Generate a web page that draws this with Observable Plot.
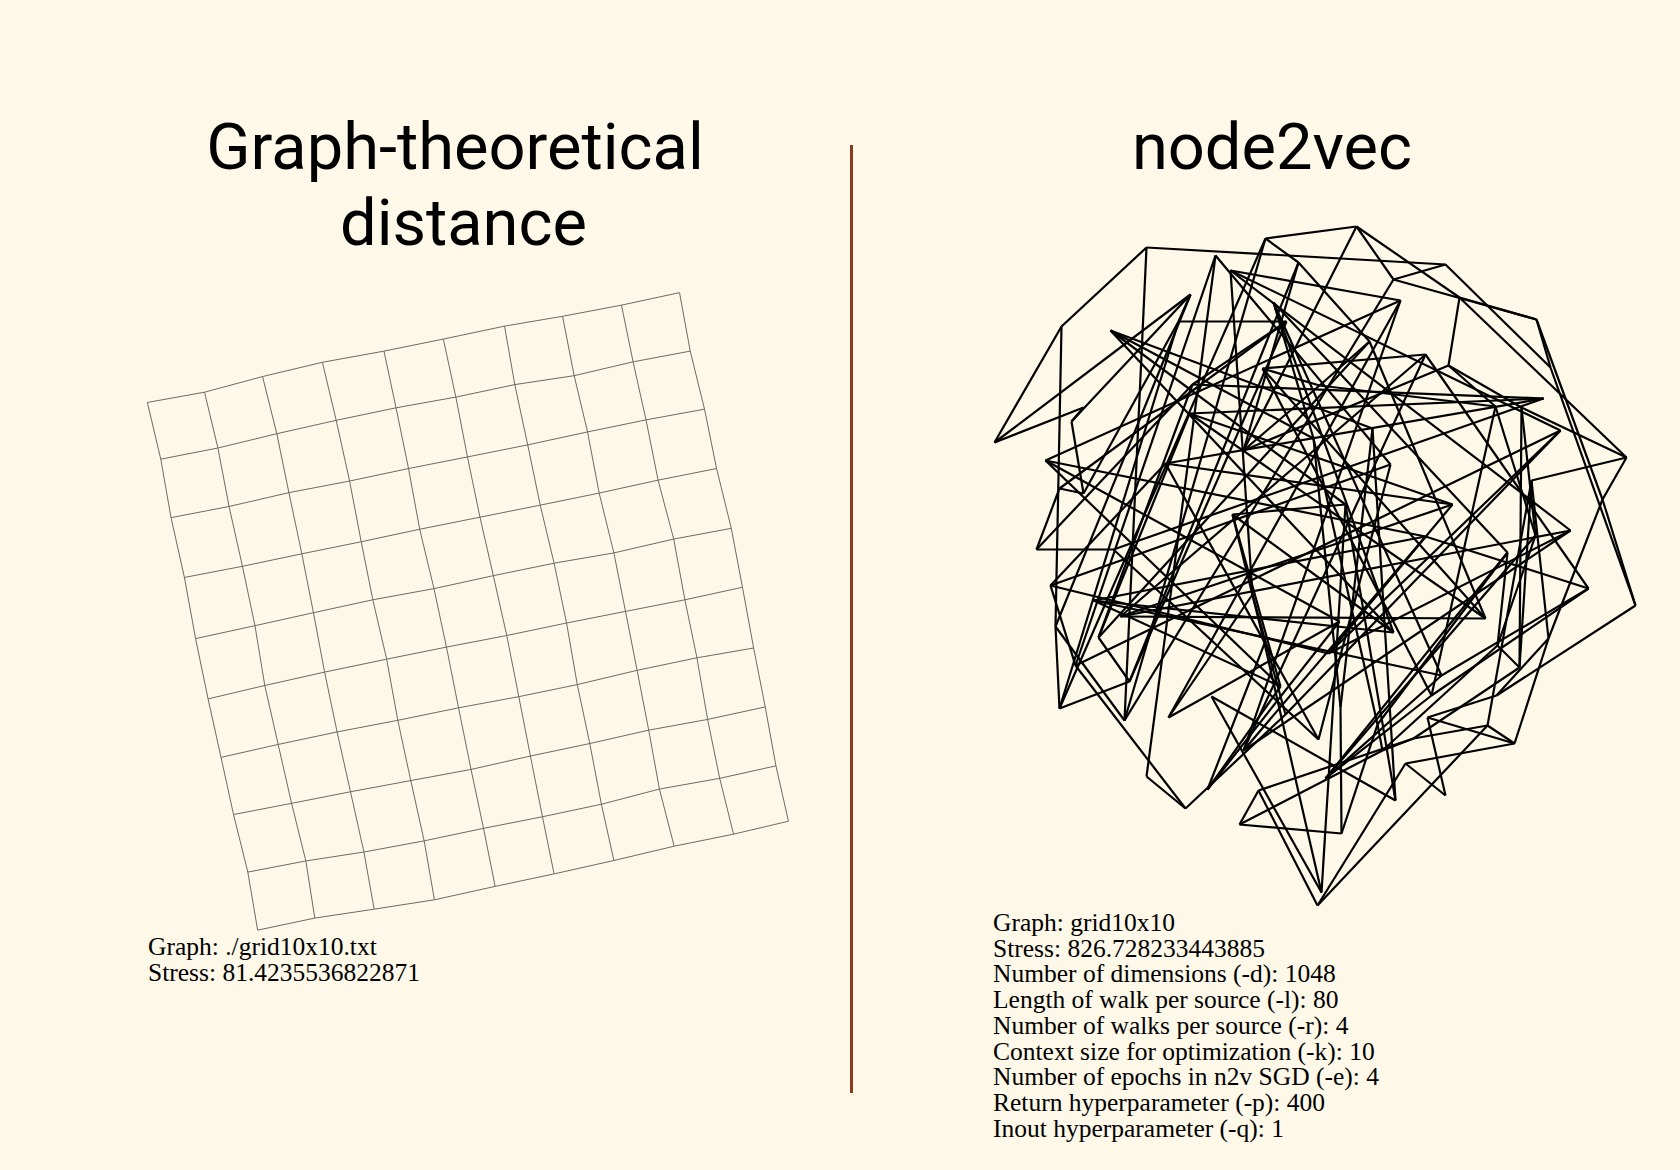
<!DOCTYPE html>
<html>
<head>
<meta charset="utf-8">
<script src="https://cdn.jsdelivr.net/npm/d3@7"></script>
<script src="https://cdn.jsdelivr.net/npm/@observablehq/plot@0.6"></script>
<style>
  html, body { margin: 0; padding: 0; }
  body { width: 1680px; height: 1170px; background: #fdf8e8; position: relative; overflow: hidden; }
  .title { position: absolute; font-family: Roboto, "Noto Sans", sans-serif; font-size: 65px; line-height: 76px; color: #000; text-align: center; white-space: nowrap; }
  .info { position: absolute; font-family: "Liberation Serif", "Times New Roman", serif; font-size: 25.5px; line-height: 25.7px; color: #000; white-space: nowrap; }
  .panel { position: absolute; }
  .divider { position: absolute; left: 850px; top: 145px; width: 2.5px; height: 948px; background: #8b3a1e; }
  svg { background: transparent; }
</style>
</head>
<body>
<div class="title" id="t1" style="left:155px; top:109px; width:600px;"></div>
<div class="title" id="t2" style="left:972px; top:109px; width:600px;"></div>
<div class="divider"></div>
<div class="panel" id="left" style="left:100px; top:260px;"></div>
<div class="panel" id="right" style="left:950px; top:200px;"></div>
<div class="info" id="info1" style="left:148px; top:934px;"></div>
<div class="info" id="info2" style="left:993px; top:910px;"></div>
<script>
// ---- Texts ----
const leftTitle = ["Graph-theoretical", "distance"];
const rightTitle = ["node2vec"];
const leftInfo = ["Graph: ./grid10x10.txt", "Stress: 81.4235536822871"];
const rightInfo = [
  "Graph: grid10x10",
  "Stress: 826.728233443885",
  "Number of dimensions (-d): 1048",
  "Length of walk per source (-l): 80",
  "Number of walks per source (-r): 4",
  "Context size for optimization (-k): 10",
  "Number of epochs in n2v SGD (-e): 4",
  "Return hyperparameter (-p): 400",
  "Inout hyperparameter (-q): 1"
];

// ---- Graph-theoretical layout: node positions of the 10x10 grid, row by row ----
const gridRow0 = [[105,318],[233,295],[363,260],[497,228],[635,203],[768,176],[905,147],[1035,125],[1167,100],[1297,72]];
const gridRow1 = [[135,445],[263,420],[395,388],[528,358],[662,330],[796,306],[928,278],[1061,258],[1193,227],[1321,203]];
const gridRow2 = [[158,576],[288,551],[422,520],[558,494],[690,466],[822,440],[957,413],[1091,384],[1222,357],[1353,333]];
const gridRow3 = [[188,710],[318,685],[451,657],[584,630],[715,602],[850,575],[985,548],[1117,521],[1249,492],[1380,466]];
const gridRow4 = [[213,847],[346,818],[477,789],[610,760],[747,735],[880,706],[1016,678],[1150,655],[1284,624],[1413,600]];
const gridRow5 = [[241,982],[368,952],[502,922],[641,893],[775,866],[910,840],[1044,812],[1176,786],[1309,760],[1438,732]];
const gridRow6 = [[270,1113],[398,1084],[530,1056],[666,1030],[802,1002],[937,977],[1068,950],[1202,918],[1336,890],[1463,868]];
const gridRow7 = [[298,1241],[428,1216],[560,1190],[695,1165],[830,1140],[963,1110],[1096,1082],[1228,1052],[1360,1028],[1489,1000]];
const gridRow8 = [[330,1370],[460,1345],[590,1325],[725,1300],[858,1272],[990,1246],[1122,1218],[1252,1184],[1387,1160],[1513,1132]];
const gridRow9 = [[352,1500],[480,1473],[613,1453],[748,1432],[884,1402],[1016,1374],[1150,1344],[1285,1312],[1418,1285],[1541,1256]];
const gridLayout = [gridRow0,gridRow1,gridRow2,gridRow3,gridRow4,gridRow5,gridRow6,gridRow7,gridRow8,gridRow9];

// ---- node2vec layout: node positions of the same 10x10 grid, row by row ----
const n2vRow0 = [[1083,407],[994,442],[1061,326],[1146,247],[1445,264],[1550,367],[1635,605],[1496,695],[1427,717],[1445,795]];
const n2vRow1 = [[1071,421],[1190,294],[1055,626],[1124,720],[1393,279],[1536,319],[1602,499],[1548,638],[1514,743],[1405,763]];
const n2vRow2 = [[1083,493],[1178,321],[1059,708],[1265,238],[1356,226],[1459,297],[1626,457],[1531,480],[1487,725],[1317,905]];
const n2vRow3 = [[1059,488],[1286,321],[1129,681],[1298,262],[1243,450],[1448,365],[1521,407],[1519,667],[1413,738],[1258,790]];
const n2vRow4 = [[1036,549],[1192,384],[1098,637],[1369,341],[1319,385],[1495,406],[1535,535],[1497,645],[1382,750],[1239,824]];
const n2vRow5 = [[1113,549],[1543,398],[1189,413],[1485,618],[1262,368],[1431,695],[1325,778],[1507,552],[1377,724],[1341,833]];
const n2vRow6 = [[1318,739],[1165,463],[1452,504],[1120,616],[1425,354],[1588,588],[1441,675],[1273,302],[1313,438],[1340,707]];
const n2vRow7 = [[1390,464],[1050,585],[1328,653],[1570,530],[1243,750],[1425,536],[1093,600],[1393,632],[1110,330],[1372,428]];
const n2vRow8 = [[1215,255],[1075,665],[1560,430],[1230,270],[1400,300],[1045,460],[1280,686],[1232,514],[1345,504],[1395,800]];
const n2vRow9 = [[1146,776],[1185,808],[1285,714],[1252,594],[1168,717],[1339,621],[1207,789],[1264,643],[1321,892],[1211,696]];
const n2vLayout = [n2vRow0,n2vRow1,n2vRow2,n2vRow3,n2vRow4,n2vRow5,n2vRow6,n2vRow7,n2vRow8,n2vRow9];

// grid graph edges: (r,c)-(r,c+1) and (r,c)-(r+1,c)
function gridEdges(layout) {
  const edges = [];
  const n = layout.length;
  for (let r = 0; r < n; r++) {
    for (let c = 0; c < n; c++) {
      const a = layout[r][c];
      if (c + 1 < n) { const b = layout[r][c + 1]; edges.push({x1: a[0], y1: a[1], x2: b[0], y2: b[1]}); }
      if (r + 1 < n) { const b = layout[r + 1][c]; edges.push({x1: a[0], y1: a[1], x2: b[0], y2: b[1]}); }
    }
  }
  return edges;
}

// titles & info text
function fillLines(id, lines, shifts) {
  const el = document.getElementById(id);
  lines.forEach((t, i) => {
    const d = document.createElement("div");
    d.textContent = t;
    if (shifts && shifts[i]) d.style.paddingLeft = shifts[i] + "px";
    el.appendChild(d);
  });
}
fillLines("t1", leftTitle, [0, 17]);
fillLines("t2", rightTitle);
fillLines("info1", leftInfo);
fillLines("info2", rightInfo);

// left plot
const leftPlot = Plot.plot({
  width: 700, height: 700, margin: 0,
  x: {domain: [0, 1568], range: [0, 700], axis: null},
  y: {domain: [0, 1568], range: [0, 700], axis: null},
  style: {background: "transparent", overflow: "visible"},
  marks: [
    Plot.link(gridEdges(gridLayout), {x1: "x1", y1: "y1", x2: "x2", y2: "y2", stroke: "#6b6b66", strokeWidth: 1})
  ]
});
document.getElementById("left").appendChild(leftPlot);

// right plot
const rightPlot = Plot.plot({
  width: 730, height: 740, margin: 0,
  x: {domain: [950, 1680], range: [0, 730], axis: null},
  y: {domain: [200, 940], range: [0, 740], axis: null},
  style: {background: "transparent", overflow: "visible"},
  marks: [
    Plot.link(gridEdges(n2vLayout), {x1: "x1", y1: "y1", x2: "x2", y2: "y2", stroke: "#000", strokeWidth: 2.2})
  ]
});
document.getElementById("right").appendChild(rightPlot);
</script>
</body>
</html>
